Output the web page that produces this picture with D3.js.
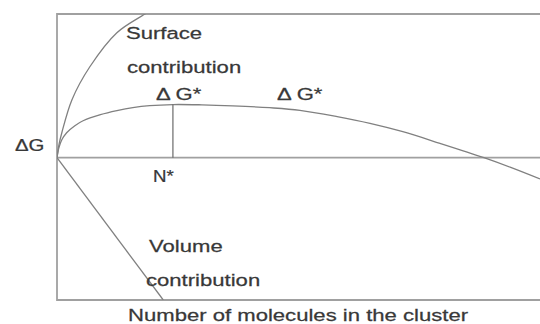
<!DOCTYPE html>
<html>
<head>
<meta charset="utf-8">
<script src="https://cdn.jsdelivr.net/npm/d3@7/dist/d3.min.js"></script>
<style>
  html, body { margin: 0; padding: 0; background: #fff; }
  svg { display: block; }
  text { font-family: "Liberation Sans", Arial, sans-serif; fill: #383838; stroke: #383838; stroke-width: 0.25; }
</style>
</head>
<body>
<div id="chart"></div>
<script>
// Free energy of cluster formation vs. number of molecules (schematic)
const clusterN      = [0, 0.4, 1, 2, 3.7, 5.4, 9, 12.4, 15.7, 19.2, 24, 30, 36.4, 44, 50.3, 58, 64.8, 71.6, 79.3, 88.4, 93.8, 100];
const totalDeltaG   = [0, 7, 12.5, 17.4, 22.3, 25.7, 29.9, 32.7, 34.8, 36.2, 37, 36.8, 36.1, 34.8, 33.0, 28.6, 23.9, 18.1, 10.0, 0, -6.6, -14.8];

const surfaceN      = [0, 0.4, 1, 3.1, 6.8, 12.4, 18.2, 21];
const surfaceDeltaG = [0, 9, 17.4, 40.4, 63.3, 87, 100, 106];

const volumeN       = [0, 22];
const volumeDeltaG  = [0, -99];

const criticalN = 24;      // N*
const criticalG = 37;      // ΔG*

const W = 540, H = 324;
const x = d3.scaleLinear().domain([0, 100]).range([57, 540]);
const y = d3.scaleLinear().domain([-99, 100]).range([300, 14]);

const svg = d3.select("#chart").append("svg")
  .attr("width", W).attr("height", H);

svg.append("defs").append("clipPath").attr("id", "plot")
  .append("rect").attr("x", x(0)).attr("y", y(100))
  .attr("width", W - x(0)).attr("height", y(-99) - y(100));

const frame = "#a0a0a0";
// frame: left, top, bottom edges
svg.append("path")
  .attr("d", `M${W},${y(100)}H${x(0)}V${y(-99)}H${W}`)
  .attr("fill", "none").attr("stroke", frame).attr("stroke-width", 1.8);
// zero baseline
svg.append("line")
  .attr("x1", x(0)).attr("x2", W).attr("y1", y(0)).attr("y2", y(0))
  .attr("stroke", frame).attr("stroke-width", 1.8);

const line = d3.line().x(d => x(d[0])).y(d => y(d[1])).curve(d3.curveCatmullRom.alpha(0.5));
const curves = svg.append("g").attr("clip-path", "url(#plot)")
  .attr("fill", "none").attr("stroke", "#808080").attr("stroke-width", 1.3);

curves.append("path").attr("d", line(d3.zip(surfaceN, surfaceDeltaG)));
curves.append("path").attr("d", line(d3.zip(clusterN, totalDeltaG)));
curves.append("path").attr("d", d3.line().x(d => x(d[0])).y(d => y(d[1]))(d3.zip(volumeN, volumeDeltaG)));

// critical cluster size marker
svg.append("line")
  .attr("x1", x(criticalN)).attr("x2", x(criticalN))
  .attr("y1", y(criticalG)).attr("y2", y(0))
  .attr("stroke", "#6a6a6a").attr("stroke-width", 1.2);

// labels, horizontally stretched sans text
function label(px, py, str, sx = 1.3) {
  svg.append("text")
    .attr("transform", `translate(${px},${py}) scale(${sx},1)`)
    .attr("font-size", 17)
    .text(str);
}
label(126, 39, "Surface");
label(127, 73, "contribution");
label(x(criticalN) - 17, y(criticalG) - 5, "\u0394 G*");
label(277, y(criticalG) - 5, "\u0394 G*");
label(15, 151, "\u0394G", 1.2);
label(x(criticalN) - 20, 182, "N*", 1.1);
label(149, 252, "Volume");
label(146, 286, "contribution");
label(128, 321, "Number of molecules in the cluster");
</script>
</body>
</html>
